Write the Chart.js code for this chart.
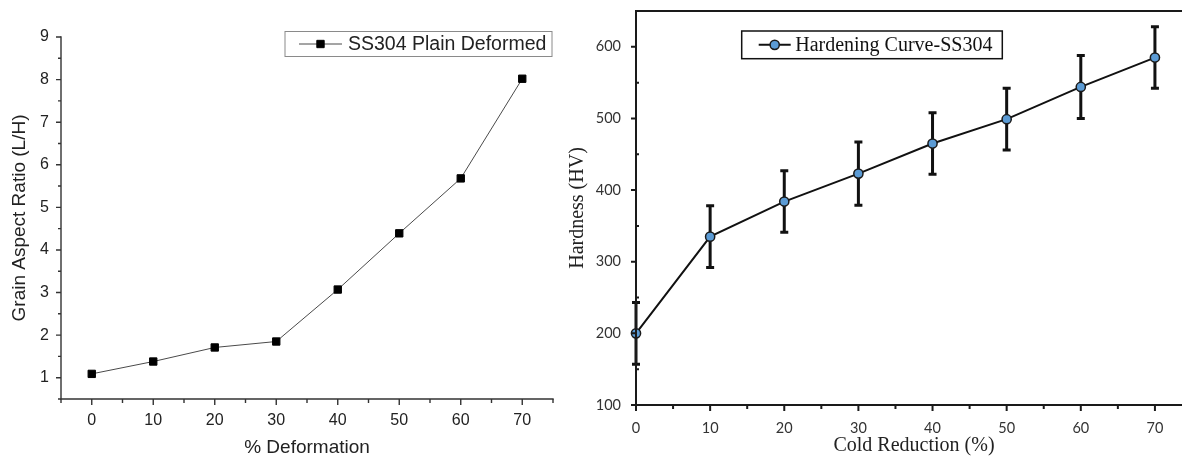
<!DOCTYPE html>
<html>
<head>
<meta charset="utf-8">
<script src="https://cdn.jsdelivr.net/npm/chart.js@4.4.1/dist/chart.umd.min.js"></script>
<style>
  html, body { margin: 0; padding: 0; background: #fff; overflow: hidden; width: 1182px; height: 457px; }
  #left { position: absolute; left: 0; top: 0; width: 565px; height: 457px; }
  #right { position: absolute; left: 565px; top: 0; width: 640px; height: 457px; }
</style>
</head>
<body>
<div id="left"><canvas id="aspectChart"></canvas></div>
<div id="right"><canvas id="hardChart"></canvas></div>
<script>
// Grain aspect ratio vs. % deformation
const deformation = [0, 10, 20, 30, 40, 50, 60, 70];
const aspectRatio = [1.09, 1.38, 1.71, 1.85, 3.07, 4.39, 5.68, 8.02];
const aspectXTicks = [0, 10, 20, 30, 40, 50, 60, 70];
const aspectYTicks = [1, 2, 3, 4, 5, 6, 7, 8, 9];

// Hardness vs. cold reduction, with error bars
const coldReduction = [0, 10, 20, 30, 40, 50, 60, 70];
const hardness = [200, 335, 384, 423, 465, 499, 544, 585];
const hardnessErr = [43, 43, 43, 44, 43, 43, 44, 43];
const hardXTicks = [0, 10, 20, 30, 40, 50, 60, 70];
const hardYTicks = [100, 200, 300, 400, 500, 600];

// Axis lines plus major/minor tick marks (positive length = outward)
const axisFrame = {
    id: 'axisFrame',
    afterDraw(chart, args, o) {
        const { ctx, chartArea: a, scales: { x, y } } = chart;
        ctx.save();
        ctx.strokeStyle = o.color;
        ctx.lineWidth = o.width;
        ctx.lineCap = 'square';
        ctx.beginPath();
        ctx.moveTo(a.left, a.top);
        ctx.lineTo(a.left, a.bottom);
        ctx.lineTo(a.right, a.bottom);
        if (o.box) {
            ctx.lineTo(a.right, a.top);
            ctx.lineTo(a.left, a.top);
        }
        ctx.stroke();
        ctx.lineCap = 'butt';
        ctx.beginPath();
        for (let v = x.min; v <= x.max + 1e-9; v += o.xMinor) {
            const major = Math.abs(v % o.xMajor) < 1e-6;
            const len = major ? o.xMajorLen : o.xMinorLen;
            const px = x.getPixelForValue(v);
            ctx.moveTo(px, a.bottom);
            ctx.lineTo(px, a.bottom + len);
        }
        for (let v = y.min; v <= y.max + 1e-9; v += o.yMinor) {
            const major = Math.abs(v % o.yMajor) < 1e-6;
            const len = major ? o.yMajorLen : o.yMinorLen;
            const py = y.getPixelForValue(v);
            ctx.moveTo(a.left, py);
            ctx.lineTo(a.left - len, py);
        }
        ctx.stroke();
        ctx.restore();
    }
};

// Framed legend drawn inside the plot
const boxLegend = {
    id: 'boxLegend',
    afterDraw(chart, args, o) {
        const ctx = chart.ctx;
        const ds = chart.data.datasets[0];
        const cy = o.y + o.h / 2;
        ctx.save();
        ctx.fillStyle = '#fff';
        ctx.fillRect(o.x, o.y, o.w, o.h);
        ctx.strokeStyle = o.borderColor;
        ctx.lineWidth = o.borderWidth;
        ctx.strokeRect(o.x, o.y, o.w, o.h);

        ctx.strokeStyle = ds.borderColor;
        ctx.lineWidth = ds.borderWidth;
        ctx.beginPath();
        ctx.moveTo(o.x + o.lineFrom, cy);
        ctx.lineTo(o.x + o.lineTo, cy);
        ctx.stroke();

        const mx = o.x + (o.lineFrom + o.lineTo) / 2;
        ctx.fillStyle = ds.pointBackgroundColor;
        ctx.strokeStyle = ds.pointBorderColor;
        ctx.lineWidth = ds.pointBorderWidth;
        ctx.beginPath();
        if (ds.pointStyle === 'rect') {
            const s = ds.pointRadius * Math.SQRT1_2;
            ctx.rect(mx - s, cy - s, 2 * s, 2 * s);
        } else {
            ctx.arc(mx, cy, ds.pointRadius, 0, Math.PI * 2);
        }
        ctx.fill();
        if (ds.pointBorderWidth) ctx.stroke();

        ctx.fillStyle = o.textColor;
        ctx.font = o.font;
        ctx.textBaseline = 'middle';
        ctx.textAlign = 'left';
        ctx.fillText(ds.label, o.x + o.textX, cy + 1);
        ctx.restore();
    }
};

// Vertical error bars with caps, drawn under the markers
const errorBars = {
    id: 'errorBars',
    beforeDatasetsDraw(chart, args, o) {
        if (!o.errors) return;
        const { ctx, scales: { x, y } } = chart;
        const pts = chart.data.datasets[0].data;
        ctx.save();
        ctx.strokeStyle = o.color;
        ctx.lineWidth = o.width;
        ctx.beginPath();
        pts.forEach((p, i) => {
            const px = x.getPixelForValue(p.x);
            const top = y.getPixelForValue(p.y + o.errors[i]);
            const bot = y.getPixelForValue(p.y - o.errors[i]);
            ctx.moveTo(px, top); ctx.lineTo(px, bot);
            ctx.moveTo(px - o.cap, top); ctx.lineTo(px + o.cap, top);
            ctx.moveTo(px - o.cap, bot); ctx.lineTo(px + o.cap, bot);
        });
        ctx.stroke();
        ctx.restore();
    }
};

const sans = "'Liberation Sans', Arial, sans-serif";
const serif = "'Liberation Serif', 'Times New Roman', serif";
const calib = "Lato, 'Open Sans', sans-serif";

// fixed axis box sizes so the plot area lands where wanted
const fixX = h => s => { s.height = h; s.paddingLeft = 0; s.paddingRight = 0; };
const fixY = w => s => { s.width = w; s.paddingTop = 0; s.paddingBottom = 0; };
const noGrid = { display: false, drawTicks: false, tickLength: 0 };

new Chart(document.getElementById('aspectChart'), {
    type: 'line',
    data: {
        datasets: [{
            label: 'SS304 Plain Deformed',
            data: deformation.map((d, i) => ({ x: d, y: aspectRatio[i] })),
            borderColor: '#4a4a4a',
            borderWidth: 1,
            pointStyle: 'rect',
            pointRadius: 5.2,
            pointBackgroundColor: '#000',
            pointBorderColor: '#000',
            pointBorderWidth: 1,
            tension: 0,
            clip: false
        }]
    },
    options: {
        responsive: true,
        maintainAspectRatio: false,
        animation: false,
        events: [],
        layout: { padding: { top: 37, right: 12, left: 0, bottom: 0 } },
        scales: {
            x: {
                type: 'linear', min: -5, max: 75,
                afterBuildTicks: s => { s.ticks = aspectXTicks.map(v => ({ value: v })); },
                afterFit: fixX(58),
                grid: noGrid,
                border: { display: false },
                ticks: { color: '#222', padding: 12, font: { family: sans, size: 16 } },
                title: { display: true, text: '% Deformation', color: '#222',
                         font: { family: sans, size: 19, lineHeight: 1 }, padding: { top: 0, bottom: 0 } }
            },
            y: {
                type: 'linear', min: 0.5, max: 9,
                afterBuildTicks: s => { s.ticks = aspectYTicks.map(v => ({ value: v })); },
                afterFit: fixY(61),
                grid: noGrid,
                border: { display: false },
                ticks: { color: '#222', padding: 12, font: { family: sans, size: 16 } },
                title: { display: true, text: 'Grain Aspect Ratio (L/H)', color: '#222',
                         font: { family: sans, size: 19, lineHeight: 1 }, padding: { top: 10, bottom: 0 } }
            }
        },
        plugins: {
            legend: { display: false },
            tooltip: { enabled: false },
            axisFrame: { color: '#333', width: 1.4, box: false,
                         xMajor: 10, xMinor: 5, xMajorLen: 6, xMinorLen: 4,
                         yMajor: 1, yMinor: 0.5, yMajorLen: 5, yMinorLen: 3 },
            boxLegend: { x: 285, y: 31.5, w: 267, h: 25, borderColor: '#8a8a8a', borderWidth: 1,
                         lineFrom: 14, lineTo: 57, textX: 63, textColor: '#222', font: '19.5px ' + sans }
        }
    },
    plugins: [axisFrame, boxLegend]
});

new Chart(document.getElementById('hardChart'), {
    type: 'line',
    data: {
        datasets: [{
            label: 'Hardening Curve-SS304',
            data: coldReduction.map((c, i) => ({ x: c, y: hardness[i] })),
            borderColor: '#111',
            borderWidth: 2,
            pointStyle: 'circle',
            pointRadius: 4.6,
            pointBackgroundColor: '#5b9bd5',
            pointBorderColor: '#1a1a1a',
            pointBorderWidth: 1.5,
            tension: 0,
            clip: false
        }]
    },
    options: {
        responsive: true,
        maintainAspectRatio: false,
        animation: false,
        events: [],
        layout: { padding: { top: 11, right: 13, left: 0, bottom: 0 } },
        scales: {
            x: {
                type: 'linear', min: 0, max: 75,
                afterBuildTicks: s => { s.ticks = hardXTicks.map(v => ({ value: v })); },
                afterFit: fixX(52),
                grid: noGrid,
                border: { display: false },
                ticks: { color: '#333', padding: 15, font: { family: calib, size: 14.5 } },
                title: { display: true, text: 'Cold Reduction (%)', color: '#222',
                         font: { family: serif, size: 20, lineHeight: 1 }, padding: { top: 0, bottom: 1 } }
            },
            y: {
                type: 'linear', min: 100, max: 650,
                afterBuildTicks: s => { s.ticks = hardYTicks.map(v => ({ value: v })); },
                afterFit: fixY(71),
                grid: noGrid,
                border: { display: false },
                ticks: { color: '#333', padding: 15, font: { family: calib, size: 14.5 } },
                title: { display: true, text: 'Hardness (HV)', color: '#222',
                         font: { family: serif, size: 20, lineHeight: 1 }, padding: { top: 3, bottom: 0 } }
            }
        },
        plugins: {
            legend: { display: false },
            tooltip: { enabled: false },
            errorBars: { errors: hardnessErr, color: '#111', width: 3, cap: 4 },
            axisFrame: { color: '#1a1a1a', width: 2, box: true,
                         xMajor: 10, xMinor: 5, xMajorLen: 6, xMinorLen: 4,
                         yMajor: 100, yMinor: 50, yMajorLen: 5, yMinorLen: -3 },
            boxLegend: { x: 176.7, y: 31, w: 260.6, h: 27.7, borderColor: '#111', borderWidth: 1.5,
                         lineFrom: 17, lineTo: 49, textX: 53.5, textColor: '#111', font: '20px ' + serif }
        }
    },
    plugins: [errorBars, axisFrame, boxLegend]
});
</script>
</body>
</html>
